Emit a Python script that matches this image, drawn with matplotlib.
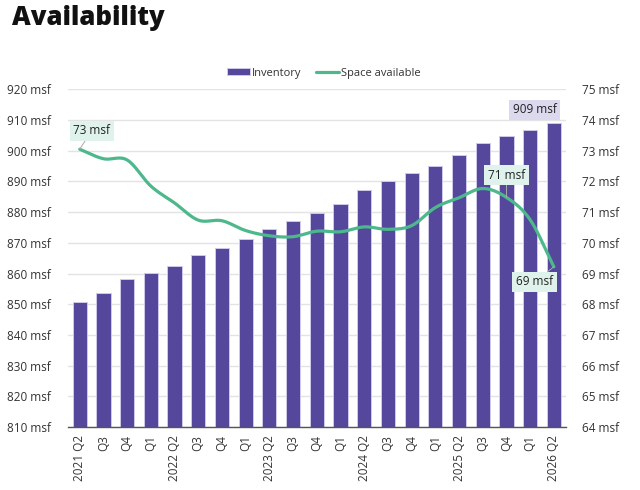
import numpy as np
import matplotlib
matplotlib.use("Agg")
import matplotlib.pyplot as plt

plt.rcParams['font.family'] = ['Open Sans', 'DejaVu Sans']

quarters = ["2021 Q2", "Q3", "Q4", "Q1", "2022 Q2", "Q3", "Q4", "Q1", "2023 Q2", "Q3", "Q4",
            "Q1", "2024 Q2", "Q3", "Q4", "Q1", "2025 Q2", "Q3", "Q4", "Q1", "2026 Q2"]
inventory = [850.7, 853.6, 858.1, 860.2, 862.6, 865.9, 868.4, 871.3, 874.4, 877.0, 879.7,
             882.7, 887.2, 890.2, 892.6, 895.1, 898.7, 902.6, 904.9, 906.8, 909.1]
space_available = [73.05, 72.74, 72.70, 71.85, 71.30, 70.74, 70.72, 70.40, 70.23, 70.20, 70.38,
                   70.36, 70.52, 70.44, 70.56, 71.15, 71.47, 71.77, 71.48, 70.75, 69.22]
left_ticks = [810, 820, 830, 840, 850, 860, 870, 880, 890, 900, 910, 920]
right_ticks = [64, 65, 66, 67, 68, 69, 70, 71, 72, 73, 74, 75]

BAR = "#54479c"
GREEN = "#4cb88c"

fig = plt.figure(figsize=(6.4, 4.9), dpi=100)
ax = fig.add_axes([0.106, 0.1286, 0.778, 0.689])
ax2 = ax.twinx()

x = np.arange(len(quarters))
ax.bar(x, inventory, width=0.6, color=BAR, edgecolor="#cfc9ea", linewidth=0.7, zorder=2,
       label="Inventory")
ax.set_ylim(810, 920)
ax.set_xlim(-0.5, len(quarters) - 0.5)
ax.set_yticks(left_ticks)
ax.set_yticklabels([f"{v} msf" for v in left_ticks])
ax.yaxis.grid(True, color="#e3e3e3", linewidth=1.0, zorder=0)
ax.set_axisbelow(True)
ax.set_xticks(x)
ax.set_xticklabels(quarters, rotation=90)

# smooth (Catmull-Rom) rendering of the line through the data points
y = np.array(space_available, dtype=float)
xs, ys = [], []
n = len(y)
m = np.zeros(n)
m[1:-1] = (y[2:] - y[:-2]) / 2.0
m[0] = y[1] - y[0]
m[-1] = y[-1] - y[-2]
for i in range(n - 1):
    t = np.linspace(0, 1, 30)
    h00 = 2 * t**3 - 3 * t**2 + 1
    h10 = t**3 - 2 * t**2 + t
    h01 = -2 * t**3 + 3 * t**2
    h11 = t**3 - t**2
    xs.append(x[i] + t)
    ys.append(h00 * y[i] + h10 * m[i] + h01 * y[i + 1] + h11 * m[i + 1])
xs = np.concatenate(xs)
ys = np.concatenate(ys)
ax2.plot(xs, ys, color=GREEN, linewidth=2.3, solid_capstyle="round", zorder=3,
         label="Space available")
ax2.set_ylim(64, 75)
ax2.set_yticks(right_ticks)
ax2.set_yticklabels([f"{v} msf" for v in right_ticks])

for a in (ax, ax2):
    for s in a.spines.values():
        s.set_visible(False)
    a.tick_params(axis="y", length=0, pad=12, labelsize=8.5, labelcolor="#333333")
ax.tick_params(axis="x", length=0, pad=6, labelsize=8.5, labelcolor="#333333")
ax.spines["bottom"].set_visible(True)
ax.spines["bottom"].set_color("#555555")
ax.spines["bottom"].set_linewidth(1.0)

line_box = dict(boxstyle="square,pad=0.3", fc="#dff2ec", ec="none")
lead = dict(arrowstyle="-", color="#aaaaaa", lw=0.7, shrinkA=0, shrinkB=0)
ax2.annotate(f"{round(space_available[0])} msf", xy=(x[0], space_available[0]),
             xytext=(8.6, 13.2), textcoords="offset points", ha="center", va="center",
             fontsize=8.5, color="#222222", bbox=line_box, arrowprops=lead, zorder=5)
ax2.annotate(f"{int(space_available[18])} msf", xy=(x[18], space_available[18]),
             xytext=(0, 16), textcoords="offset points", ha="center", va="center",
             fontsize=8.5, color="#222222", bbox=line_box, arrowprops=lead, zorder=5)
ax2.annotate(f"{round(space_available[-1])} msf", xy=(x[-1], space_available[-1]),
             xytext=(-13.9, -10.8), textcoords="offset points", ha="center", va="center",
             fontsize=8.5, color="#222222", bbox=line_box, arrowprops=lead, zorder=5)
ax.annotate(f"{round(inventory[-1])} msf", xy=(x[-1], inventory[-1]),
            xytext=(-13.9, 9.4), textcoords="offset points", ha="center", va="center",
            fontsize=8.5, color="#222222",
            bbox=dict(boxstyle="square,pad=0.3", fc="#dcd8ee", ec="none"), zorder=5)

h1, l1 = ax.get_legend_handles_labels()
h2, l2 = ax2.get_legend_handles_labels()
fig.legend(h1 + h2, l1 + l2, loc="center", bbox_to_anchor=(0.506, 0.851), ncol=2,
           frameon=False, fontsize=8.0, handlelength=2.1, handleheight=0.6,
           handletextpad=0.15, columnspacing=1.3, labelcolor="#333333")

fig.text(0.019, 0.963, "Availability", fontsize=18.5, fontweight="heavy", ha="left",
         va="center", color="#111111")

fig.savefig("out.png", dpi=100)
